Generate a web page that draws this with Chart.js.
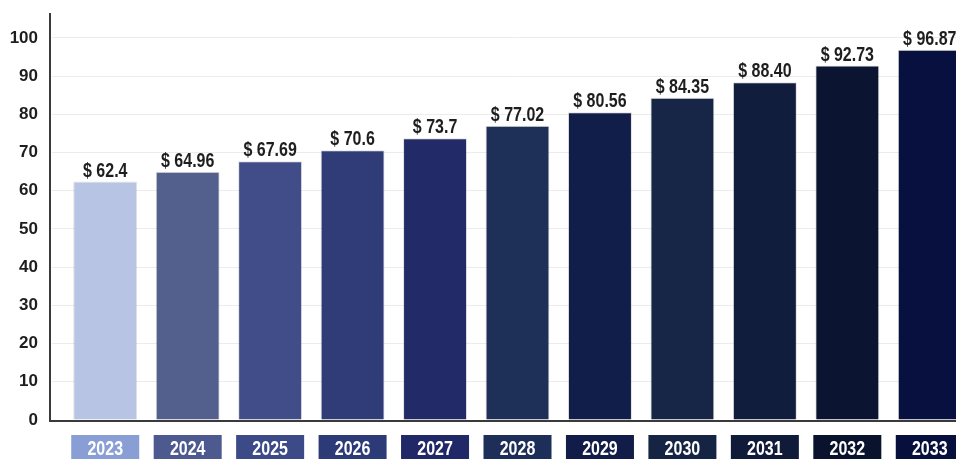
<!DOCTYPE html>
<html>
  <head>
    <title>Market Size 2023-2033</title>
    <script src="https://cdn.jsdelivr.net/npm/chart.js"></script>
    <style>
      html,
      body {
        margin: 0;
        padding: 0;
        overflow: hidden;
        background: #ffffff;
      }
      #wrap {
        width: 972px;
        height: 459px;
      }
    </style>
  </head>
  <body>
    <div id="wrap">
      <canvas id="market_chart"></canvas>
    </div>

    <script>
      var years = [
        "2023", "2024", "2025", "2026", "2027", "2028",
        "2029", "2030", "2031", "2032", "2033",
      ];

      // values as printed above each bar (kept as text so "88.40" keeps its zero)
      var marketSize = [
        "62.4", "64.96", "67.69", "70.6", "73.7", "77.02",
        "80.56", "84.35", "88.40", "92.73", "96.87",
      ];

      var yTicks = [0, 10, 20, 30, 40, 50, 60, 70, 80, 90, 100];

      var barColors = [
        "#b8c4e3", "#535f8c", "#404d88", "#2f3c77", "#222a68", "#1e3058",
        "#121e4a", "#172646", "#111d3c", "#0b1430", "#07103f",
      ];

      var boxColors = [
        "#8a9ed6", "#4d5a8f", "#3d4a88", "#2d3a78", "#202868", "#1d2f58",
        "#111c48", "#162444", "#101b3a", "#0a132e", "#07103c",
      ];

      var FONT = "'Liberation Sans', Arial, sans-serif";

      var ctx = document.getElementById("market_chart").getContext("2d");

      // narrow-looking text: squeeze it horizontally around its center
      function narrowText(c, text, x, y) {
        c.save();
        c.translate(x, y);
        c.scale(0.8, 1);
        c.fillText(text, 0, 0);
        c.restore();
      }

      // value labels above the bars, axis lines and the year boxes underneath
      var decorPlugin = {
        id: "decorPlugin",
        afterDatasetsDraw: function (chart) {
          var c = chart.ctx;
          var meta = chart.getDatasetMeta(0);
          var yScale = chart.scales.y;
          var base = yScale.getPixelForValue(0);

          c.save();
          // axis lines
          c.strokeStyle = "#3a3a3a";
          c.lineWidth = 2;
          c.beginPath();
          c.moveTo(50, chart.chartArea.top);
          c.lineTo(50, base + 2);
          c.moveTo(49, base + 1);
          c.lineTo(chart.width, base + 1);
          c.stroke();

          // labels on top of the bars
          c.font = "bold 20px " + FONT;
          c.fillStyle = "#1e1e1e";
          c.textAlign = "center";
          c.textBaseline = "alphabetic";
          meta.data.forEach(function (bar, i) {
            narrowText(c, "$ " + marketSize[i], bar.x, bar.y - 5);
          });

          // year boxes
          meta.data.forEach(function (bar, i) {
            c.fillStyle = boxColors[i];
            c.fillRect(bar.x - 34, base + 15, 68, 40);
            c.fillStyle = "#ffffff";
            narrowText(c, years[i], bar.x, base + 35);
          });
          c.restore();
        },
      };

      var marketChart = new Chart(ctx, {
        type: "bar",
        data: {
          labels: years,
          datasets: [
            {
              label: "Market size",
              data: marketSize.map(Number),
              backgroundColor: barColors,
              borderColor: "rgba(0, 0, 0, 0.12)",
              borderWidth: 1,
              borderSkipped: "bottom",
              barPercentage: 0.776,
              categoryPercentage: 1,
            },
          ],
        },
        options: {
          responsive: true,
          maintainAspectRatio: false,
          animation: false,
          layout: {
            padding: { top: 13, bottom: 39, left: 0, right: 1 },
          },
          plugins: {
            legend: { display: false },
            tooltip: { enabled: false },
          },
          scales: {
            x: {
              grid: { display: false },
              border: { display: false },
              ticks: { display: false },
              afterFit: function (scale) {
                scale.height = 0;
                scale.paddingLeft = 0;
                scale.paddingRight = 0;
              },
            },
            y: {
              min: 0,
              max: 106.5,
              border: { display: false },
              grid: {
                color: "#ececec",
                lineWidth: 1,
                tickLength: 12,
              },
              ticks: {
                stepSize: 10,
                padding: 14,
                color: "#1e1e1e",
                font: { family: FONT, size: 17, weight: "bold" },
              },
              afterBuildTicks: function (scale) {
                scale.ticks = yTicks.map(function (v) {
                  return { value: v };
                });
              },
              afterFit: function (scale) {
                scale.width = 64;
                scale.paddingTop = 0;
                scale.paddingBottom = 0;
              },
            },
          },
        },
        plugins: [decorPlugin],
      });
    </script>
  </body>
</html>
